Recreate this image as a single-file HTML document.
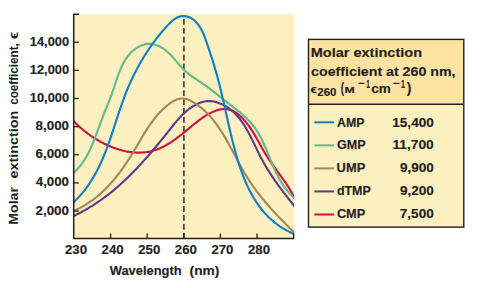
<!DOCTYPE html>
<html><head><meta charset="utf-8"><style>
html,body{margin:0;padding:0;background:#fff;width:482px;height:288px;overflow:hidden}
svg{display:block}
.t{font-family:"Liberation Sans",sans-serif;fill:#231f20;stroke:#231f20;stroke-width:0.15px}
.nr{stroke-width:0}
</style></head><body>
<svg width="482" height="288" viewBox="0 0 482 288">
<rect x="0" y="0" width="482" height="288" fill="#ffffff"/>
<rect x="74.2" y="14.2" width="220" height="224" fill="#fdf0c0"/>
<defs><clipPath id="cp"><rect x="74" y="0" width="220.2" height="238"/></clipPath></defs>
<g clip-path="url(#cp)" fill="none" stroke-width="2.1" stroke-linecap="round">
<line x1="183.9" y1="19.0" x2="183.9" y2="238" stroke="#3a3533" stroke-width="1.6" stroke-dasharray="5.8 3.11" stroke-linecap="butt"/>
<path d="M69.45,116.34 L70.12,117.14 L70.79,117.93 L71.49,118.72 L72.20,119.51 L72.92,120.30 L73.66,121.08 L74.41,121.87 L75.17,122.65 L75.95,123.42 L76.74,124.20 L77.55,124.97 L78.37,125.73 L79.20,126.49 L80.04,127.25 L80.90,128.00 L81.77,128.74 L82.64,129.48 L83.53,130.22 L84.44,130.95 L85.35,131.67 L86.27,132.38 L87.21,133.09 L88.15,133.79 L89.10,134.48 L90.06,135.16 L91.04,135.84 L92.02,136.51 L93.01,137.16 L94.01,137.81 L95.01,138.45 L96.03,139.08 L97.05,139.70 L98.08,140.31 L99.12,140.90 L100.16,141.49 L101.22,142.06 L102.27,142.63 L103.34,143.18 L104.41,143.72 L105.48,144.24 L106.57,144.75 L107.65,145.25 L108.75,145.74 L109.84,146.21 L110.94,146.67 L112.05,147.11 L113.16,147.54 L114.27,147.96 L115.39,148.35 L116.51,148.74 L117.63,149.10 L118.76,149.45 L119.89,149.79 L121.02,150.10 L122.15,150.40 L123.28,150.69 L124.42,150.95 L125.55,151.20 L126.69,151.42 L127.83,151.63 L128.97,151.82 L130.11,151.99 L131.25,152.14 L132.39,152.27 L133.53,152.39 L134.66,152.48 L135.80,152.54 L136.93,152.59 L138.07,152.62 L139.20,152.62 L140.33,152.61 L141.46,152.57 L142.58,152.51 L143.70,152.42 L144.82,152.31 L145.94,152.18 L147.05,152.02 L148.16,151.84 L149.26,151.64 L150.36,151.41 L151.46,151.15 L152.55,150.87 L153.63,150.57 L154.71,150.24 L155.78,149.88 L156.85,149.50 L157.92,149.09 L158.98,148.66 L160.03,148.21 L161.08,147.74 L162.12,147.25 L163.16,146.74 L164.19,146.20 L165.22,145.65 L166.24,145.09 L167.26,144.50 L168.27,143.90 L169.28,143.28 L170.28,142.65 L171.28,142.01 L172.27,141.35 L173.26,140.68 L174.24,139.99 L175.22,139.30 L176.19,138.60 L177.16,137.88 L178.12,137.16 L179.08,136.43 L180.04,135.69 L180.99,134.95 L181.93,134.20 L182.87,133.45 L183.81,132.69 L184.74,131.93 L185.67,131.16 L186.59,130.40 L187.51,129.63 L188.43,128.87 L189.34,128.10 L190.25,127.33 L191.16,126.57 L192.07,125.81 L192.98,125.05 L193.89,124.30 L194.81,123.55 L195.73,122.81 L196.65,122.07 L197.58,121.35 L198.52,120.63 L199.46,119.92 L200.42,119.22 L201.38,118.53 L202.35,117.85 L203.33,117.18 L204.33,116.52 L205.34,115.88 L206.36,115.26 L207.40,114.65 L208.45,114.05 L209.52,113.47 L210.60,112.92 L211.69,112.38 L212.80,111.88 L213.91,111.40 L215.02,110.96 L216.14,110.56 L217.27,110.19 L218.39,109.87 L219.51,109.59 L220.63,109.36 L221.74,109.19 L222.84,109.07 L223.94,109.01 L225.02,109.01 L226.09,109.08 L227.15,109.21 L228.19,109.40 L229.22,109.64 L230.23,109.95 L231.24,110.30 L232.23,110.71 L233.20,111.17 L234.16,111.67 L235.11,112.22 L236.04,112.81 L236.96,113.44 L237.87,114.11 L238.76,114.81 L239.63,115.55 L240.49,116.32 L241.34,117.11 L242.17,117.94 L242.99,118.79 L243.80,119.66 L244.58,120.55 L245.36,121.45 L246.12,122.37 L246.86,123.31 L247.59,124.25 L248.31,125.21 L249.01,126.17 L249.69,127.14 L250.37,128.12 L251.03,129.10 L251.68,130.09 L252.32,131.09 L252.95,132.09 L253.57,133.10 L254.18,134.11 L254.79,135.12 L255.39,136.14 L255.98,137.16 L256.57,138.19 L257.15,139.21 L257.73,140.24 L258.30,141.26 L258.87,142.29 L259.44,143.32 L260.01,144.35 L260.58,145.37 L261.15,146.40 L261.72,147.42 L262.30,148.44 L262.87,149.46 L263.45,150.47 L264.03,151.48 L264.62,152.49 L265.21,153.49 L265.81,154.48 L266.42,155.47 L267.03,156.46 L267.66,157.43 L268.29,158.40 L268.92,159.37 L269.57,160.33 L270.21,161.28 L270.87,162.23 L271.53,163.18 L272.19,164.13 L272.86,165.07 L273.53,166.00 L274.20,166.94 L274.88,167.87 L275.56,168.81 L276.24,169.74 L276.92,170.67 L277.61,171.60 L278.29,172.53 L278.97,173.47 L279.65,174.40 L280.34,175.34 L281.01,176.27 L281.69,177.21 L282.37,178.15 L283.04,179.10 L283.71,180.05 L284.37,181.00 L285.03,181.96 L285.69,182.92 L286.34,183.89 L286.98,184.86 L287.62,185.84 L288.25,186.83 L288.87,187.82 L289.49,188.82 L290.09,189.83 L290.69,190.85 L291.28,191.87 L291.86,192.91 L292.43,193.95 L292.99,195.00 L293.54,196.07 L294.08,197.14 L294.60,198.22 L295.11,199.32 L295.61,200.43 L296.10,201.55 L296.57,202.68 L297.03,203.83" stroke="#d01142" stroke-linejoin="round"/>
<path d="M64.44,219.94 L65.71,219.42 L66.98,218.90 L68.24,218.37 L69.49,217.83 L70.73,217.28 L71.97,216.72 L73.20,216.15 L74.42,215.58 L75.63,215.00 L76.84,214.40 L78.04,213.81 L79.23,213.20 L80.41,212.58 L81.59,211.96 L82.76,211.33 L83.92,210.69 L85.08,210.05 L86.22,209.39 L87.37,208.73 L88.50,208.07 L89.63,207.39 L90.75,206.71 L91.87,206.02 L92.98,205.32 L94.08,204.62 L95.18,203.91 L96.27,203.19 L97.35,202.46 L98.43,201.73 L99.50,200.99 L100.57,200.25 L101.63,199.50 L102.68,198.74 L103.73,197.98 L104.77,197.21 L105.81,196.43 L106.84,195.65 L107.87,194.86 L108.89,194.06 L109.91,193.26 L110.92,192.46 L111.92,191.64 L112.92,190.82 L113.92,190.00 L114.91,189.17 L115.89,188.34 L116.87,187.50 L117.85,186.65 L118.82,185.80 L119.78,184.94 L120.75,184.08 L121.70,183.21 L122.66,182.34 L123.61,181.47 L124.55,180.59 L125.49,179.70 L126.43,178.81 L127.36,177.91 L128.29,177.01 L129.21,176.11 L130.13,175.20 L131.05,174.29 L131.96,173.37 L132.87,172.45 L133.78,171.52 L134.68,170.59 L135.58,169.66 L136.47,168.72 L137.37,167.78 L138.25,166.83 L139.14,165.88 L140.02,164.93 L140.90,163.98 L141.78,163.02 L142.65,162.05 L143.53,161.09 L144.39,160.12 L145.26,159.14 L146.12,158.17 L146.98,157.19 L147.84,156.21 L148.70,155.22 L149.55,154.23 L150.41,153.24 L151.26,152.25 L152.10,151.26 L152.95,150.26 L153.79,149.26 L154.63,148.25 L155.47,147.25 L156.31,146.24 L157.15,145.23 L157.98,144.22 L158.82,143.21 L159.65,142.19 L160.48,141.17 L161.31,140.15 L162.14,139.13 L162.97,138.11 L163.79,137.09 L164.62,136.06 L165.44,135.03 L166.26,134.00 L167.09,132.97 L167.91,131.94 L168.73,130.91 L169.55,129.88 L170.37,128.84 L171.19,127.81 L172.01,126.78 L172.84,125.75 L173.67,124.72 L174.50,123.70 L175.34,122.69 L176.18,121.68 L177.04,120.68 L177.90,119.69 L178.76,118.71 L179.64,117.74 L180.53,116.79 L181.43,115.84 L182.35,114.92 L183.27,114.00 L184.22,113.11 L185.17,112.23 L186.15,111.38 L187.14,110.54 L188.15,109.72 L189.17,108.93 L190.22,108.16 L191.29,107.41 L192.38,106.69 L193.49,106.00 L194.63,105.33 L195.79,104.70 L196.97,104.10 L198.17,103.55 L199.39,103.04 L200.62,102.58 L201.87,102.17 L203.14,101.82 L204.42,101.53 L205.70,101.31 L207.00,101.16 L208.31,101.09 L209.63,101.09 L210.94,101.17 L212.26,101.32 L213.58,101.53 L214.88,101.80 L216.18,102.13 L217.47,102.51 L218.74,102.94 L219.99,103.41 L221.22,103.92 L222.42,104.47 L223.59,105.05 L224.74,105.66 L225.85,106.30 L226.94,106.96 L228.01,107.66 L229.05,108.39 L230.07,109.14 L231.06,109.92 L232.03,110.72 L232.97,111.55 L233.90,112.40 L234.80,113.27 L235.68,114.17 L236.55,115.09 L237.39,116.03 L238.21,116.99 L239.02,117.97 L239.81,118.96 L240.59,119.98 L241.34,121.01 L242.09,122.06 L242.82,123.12 L243.53,124.20 L244.23,125.29 L244.92,126.39 L245.60,127.51 L246.27,128.64 L246.92,129.78 L247.57,130.93 L248.21,132.08 L248.84,133.25 L249.46,134.42 L250.08,135.60 L250.68,136.79 L251.29,137.98 L251.89,139.18 L252.48,140.38 L253.07,141.58 L253.66,142.79 L254.24,144.00 L254.83,145.21 L255.41,146.41 L255.99,147.62 L256.58,148.82 L257.16,150.03 L257.75,151.23 L258.33,152.42 L258.93,153.61 L259.52,154.80 L260.12,155.98 L260.73,157.15 L261.34,158.31 L261.96,159.47 L262.58,160.62 L263.21,161.76 L263.84,162.90 L264.48,164.02 L265.13,165.15 L265.78,166.26 L266.44,167.37 L267.11,168.47 L267.78,169.57 L268.45,170.67 L269.13,171.75 L269.82,172.84 L270.51,173.91 L271.21,174.99 L271.91,176.06 L272.62,177.12 L273.34,178.19 L274.06,179.25 L274.79,180.30 L275.52,181.35 L276.26,182.40 L277.00,183.45 L277.75,184.50 L278.50,185.54 L279.26,186.58 L280.02,187.63 L280.79,188.66 L281.57,189.70 L282.35,190.74 L283.13,191.78 L283.93,192.82 L284.72,193.85 L285.52,194.89 L286.33,195.93 L287.14,196.97 L287.96,198.01 L288.78,199.05 L289.61,200.09 L290.44,201.13 L291.28,202.18 L292.12,203.23 L292.97,204.28 L293.82,205.33 L294.68,206.38 L295.54,207.44 L296.41,208.51 L297.28,209.57 L298.16,210.64 L299.04,211.72 L299.93,212.79" stroke="#5f3a8c" stroke-linejoin="round"/>
<path d="M63.99,214.60 L65.41,214.14 L66.82,213.66 L68.21,213.16 L69.58,212.64 L70.94,212.11 L72.28,211.55 L73.61,210.99 L74.92,210.40 L76.22,209.80 L77.50,209.19 L78.77,208.55 L80.02,207.91 L81.26,207.24 L82.49,206.57 L83.70,205.87 L84.90,205.16 L86.08,204.44 L87.25,203.70 L88.41,202.95 L89.55,202.19 L90.68,201.41 L91.80,200.62 L92.91,199.81 L94.00,198.99 L95.08,198.16 L96.15,197.32 L97.21,196.46 L98.25,195.59 L99.29,194.71 L100.31,193.82 L101.32,192.91 L102.33,191.99 L103.32,191.07 L104.30,190.13 L105.27,189.18 L106.23,188.22 L107.18,187.25 L108.12,186.27 L109.05,185.28 L109.97,184.28 L110.88,183.27 L111.78,182.25 L112.68,181.22 L113.56,180.18 L114.44,179.13 L115.31,178.08 L116.17,177.01 L117.02,175.94 L117.87,174.86 L118.70,173.78 L119.53,172.68 L120.35,171.58 L121.17,170.47 L121.98,169.35 L122.78,168.23 L123.57,167.10 L124.36,165.96 L125.15,164.82 L125.92,163.67 L126.69,162.52 L127.46,161.36 L128.22,160.20 L128.97,159.03 L129.72,157.85 L130.47,156.67 L131.21,155.49 L131.94,154.30 L132.67,153.11 L133.40,151.92 L134.12,150.72 L134.84,149.51 L135.56,148.31 L136.27,147.10 L136.98,145.89 L137.69,144.68 L138.40,143.47 L139.11,142.25 L139.82,141.04 L140.53,139.83 L141.24,138.62 L141.95,137.42 L142.67,136.21 L143.39,135.01 L144.12,133.81 L144.85,132.62 L145.59,131.43 L146.33,130.25 L147.09,129.07 L147.85,127.90 L148.61,126.74 L149.39,125.58 L150.18,124.43 L150.98,123.30 L151.78,122.17 L152.60,121.05 L153.44,119.94 L154.28,118.84 L155.14,117.76 L156.02,116.69 L156.91,115.63 L157.81,114.58 L158.73,113.55 L159.67,112.53 L160.63,111.52 L161.60,110.54 L162.60,109.57 L163.61,108.61 L164.65,107.67 L165.70,106.75 L166.78,105.85 L167.88,104.97 L169.00,104.11 L170.14,103.27 L171.31,102.47 L172.49,101.71 L173.70,101.00 L174.91,100.36 L176.14,99.79 L177.39,99.31 L178.64,98.93 L179.90,98.65 L181.16,98.49 L182.43,98.45 L183.70,98.55 L184.96,98.76 L186.23,99.08 L187.49,99.49 L188.73,99.98 L189.97,100.54 L191.20,101.15 L192.40,101.81 L193.59,102.50 L194.76,103.21 L195.91,103.95 L197.03,104.70 L198.14,105.48 L199.23,106.28 L200.30,107.10 L201.35,107.94 L202.39,108.80 L203.41,109.67 L204.41,110.57 L205.39,111.48 L206.36,112.41 L207.31,113.36 L208.25,114.33 L209.17,115.31 L210.08,116.30 L210.97,117.32 L211.85,118.34 L212.72,119.38 L213.58,120.44 L214.42,121.50 L215.25,122.58 L216.07,123.68 L216.87,124.78 L217.67,125.90 L218.46,127.03 L219.23,128.16 L220.00,129.31 L220.76,130.47 L221.51,131.64 L222.25,132.81 L222.98,133.99 L223.71,135.19 L224.43,136.38 L225.14,137.59 L225.85,138.80 L226.55,140.02 L227.24,141.24 L227.94,142.47 L228.62,143.70 L229.30,144.94 L229.98,146.18 L230.66,147.42 L231.33,148.67 L232.00,149.92 L232.67,151.17 L233.34,152.42 L234.00,153.67 L234.67,154.92 L235.33,156.18 L236.00,157.43 L236.66,158.68 L237.33,159.93 L237.99,161.17 L238.66,162.42 L239.33,163.66 L240.01,164.90 L240.69,166.13 L241.37,167.36 L242.05,168.59 L242.74,169.81 L243.43,171.03 L244.13,172.23 L244.83,173.44 L245.54,174.63 L246.26,175.82 L246.98,177.00 L247.71,178.17 L248.45,179.33 L249.19,180.49 L249.94,181.63 L250.70,182.77 L251.46,183.91 L252.24,185.03 L253.01,186.15 L253.80,187.26 L254.59,188.36 L255.39,189.46 L256.19,190.55 L257.00,191.64 L257.82,192.72 L258.64,193.79 L259.47,194.86 L260.30,195.92 L261.14,196.98 L261.99,198.04 L262.84,199.08 L263.70,200.13 L264.57,201.17 L265.44,202.20 L266.31,203.23 L267.20,204.26 L268.08,205.29 L268.98,206.31 L269.88,207.32 L270.78,208.34 L271.69,209.35 L272.60,210.36 L273.52,211.36 L274.45,212.37 L275.38,213.37 L276.32,214.37 L277.26,215.37 L278.20,216.36 L279.15,217.36 L280.11,218.35 L281.07,219.35 L282.03,220.34 L283.00,221.33 L283.98,222.32 L284.96,223.31 L285.94,224.31 L286.93,225.30 L287.92,226.29 L288.92,227.28 L289.92,228.28 L290.92,229.27 L291.93,230.26 L292.95,231.26 L293.96,232.26 L294.99,233.26 L296.01,234.26 L297.04,235.26 L298.07,236.27 L299.11,237.28 L300.15,238.29 L301.20,239.30" stroke="#a6845c" stroke-linejoin="round"/>
<path d="M64.87,179.02 L66.26,178.21 L67.61,177.36 L68.92,176.48 L70.19,175.56 L71.42,174.62 L72.62,173.64 L73.78,172.64 L74.90,171.61 L75.98,170.55 L77.04,169.47 L78.06,168.36 L79.05,167.22 L80.01,166.06 L80.94,164.88 L81.84,163.68 L82.72,162.46 L83.57,161.22 L84.39,159.95 L85.19,158.67 L85.96,157.38 L86.72,156.07 L87.45,154.74 L88.16,153.39 L88.85,152.04 L89.53,150.67 L90.19,149.29 L90.83,147.90 L91.45,146.50 L92.07,145.09 L92.66,143.67 L93.25,142.24 L93.83,140.81 L94.39,139.37 L94.95,137.93 L95.50,136.49 L96.04,135.04 L96.58,133.59 L97.11,132.14 L97.64,130.69 L98.16,129.24 L98.69,127.80 L99.21,126.35 L99.73,124.91 L100.26,123.47 L100.78,122.04 L101.31,120.62 L101.85,119.20 L102.39,117.79 L102.93,116.39 L103.48,115.00 L104.03,113.61 L104.58,112.22 L105.14,110.84 L105.70,109.46 L106.26,108.08 L106.82,106.70 L107.37,105.32 L107.93,103.94 L108.49,102.55 L109.04,101.16 L109.59,99.76 L110.13,98.36 L110.67,96.94 L111.21,95.52 L111.74,94.09 L112.26,92.65 L112.78,91.20 L113.28,89.73 L113.78,88.25 L114.28,86.76 L114.77,85.27 L115.27,83.76 L115.76,82.26 L116.26,80.75 L116.76,79.24 L117.28,77.74 L117.80,76.24 L118.33,74.74 L118.88,73.25 L119.45,71.78 L120.03,70.31 L120.63,68.87 L121.26,67.43 L121.90,66.02 L122.58,64.63 L123.28,63.25 L124.02,61.91 L124.79,60.59 L125.59,59.30 L126.43,58.04 L127.31,56.81 L128.22,55.62 L129.19,54.46 L130.19,53.34 L131.25,52.27 L132.35,51.23 L133.50,50.25 L134.69,49.31 L135.92,48.44 L137.18,47.62 L138.48,46.87 L139.80,46.19 L141.15,45.59 L142.53,45.07 L143.91,44.63 L145.32,44.29 L146.73,44.04 L148.16,43.89 L149.58,43.84 L151.01,43.90 L152.43,44.07 L153.85,44.34 L155.26,44.71 L156.65,45.17 L158.03,45.71 L159.39,46.33 L160.73,47.03 L162.04,47.80 L163.32,48.63 L164.57,49.51 L165.79,50.45 L166.97,51.44 L168.12,52.47 L169.24,53.53 L170.33,54.63 L171.41,55.76 L172.46,56.90 L173.50,58.07 L174.53,59.25 L175.55,60.44 L176.56,61.63 L177.57,62.82 L178.59,64.00 L179.61,65.17 L180.64,66.33 L181.69,67.46 L182.75,68.57 L183.83,69.65 L184.93,70.69 L186.06,71.70 L187.20,72.68 L188.36,73.63 L189.54,74.56 L190.74,75.46 L191.94,76.35 L193.16,77.22 L194.39,78.07 L195.63,78.91 L196.87,79.75 L198.12,80.57 L199.37,81.40 L200.62,82.22 L201.87,83.05 L203.11,83.88 L204.35,84.71 L205.59,85.56 L206.82,86.42 L208.04,87.30 L209.24,88.19 L210.44,89.10 L211.64,90.02 L212.83,90.95 L214.01,91.89 L215.19,92.84 L216.37,93.79 L217.55,94.75 L218.73,95.71 L219.91,96.67 L221.10,97.63 L222.29,98.59 L223.49,99.54 L224.69,100.49 L225.90,101.44 L227.11,102.38 L228.33,103.32 L229.55,104.25 L230.77,105.19 L231.99,106.13 L233.21,107.07 L234.42,108.01 L235.63,108.96 L236.83,109.91 L238.03,110.87 L239.21,111.83 L240.39,112.81 L241.55,113.79 L242.69,114.78 L243.83,115.79 L244.94,116.80 L246.04,117.84 L247.12,118.88 L248.17,119.94 L249.21,121.02 L250.22,122.12 L251.20,123.23 L252.16,124.37 L253.09,125.53 L253.99,126.71 L254.87,127.91 L255.71,129.12 L256.54,130.36 L257.34,131.62 L258.12,132.89 L258.87,134.18 L259.61,135.48 L260.33,136.80 L261.03,138.13 L261.72,139.47 L262.39,140.83 L263.04,142.20 L263.68,143.57 L264.32,144.96 L264.94,146.35 L265.55,147.75 L266.16,149.16 L266.75,150.57 L267.35,151.99 L267.94,153.41 L268.52,154.84 L269.11,156.26 L269.69,157.69 L270.28,159.12 L270.86,160.55 L271.45,161.97 L272.05,163.40 L272.65,164.82 L273.25,166.23 L273.87,167.64 L274.49,169.05 L275.12,170.45 L275.77,171.84 L276.43,173.22 L277.10,174.59 L277.79,175.95 L278.49,177.30 L279.21,178.64 L279.95,179.97 L280.72,181.28 L281.50,182.58 L282.30,183.86 L283.13,185.12 L283.98,186.37 L284.86,187.60 L285.77,188.81 L286.70,190.00 L287.67,191.17 L288.67,192.32 L289.69,193.45 L290.76,194.55 L291.85,195.63 L292.98,196.68 L294.15,197.70 L295.36,198.70 L296.61,199.67 L297.90,200.61 L299.23,201.53 L300.60,202.41 L302.02,203.26 L303.48,204.08" stroke="#5fb98b" stroke-linejoin="round"/>
<path d="M61.59,212.17 L63.35,210.90 L65.07,209.61 L66.75,208.31 L68.39,206.98 L69.98,205.63 L71.54,204.26 L73.05,202.87 L74.53,201.46 L75.98,200.04 L77.38,198.60 L78.75,197.14 L80.09,195.66 L81.39,194.17 L82.66,192.65 L83.90,191.13 L85.10,189.58 L86.28,188.03 L87.42,186.45 L88.54,184.87 L89.63,183.26 L90.69,181.65 L91.72,180.02 L92.73,178.38 L93.71,176.72 L94.67,175.05 L95.60,173.37 L96.52,171.68 L97.41,169.98 L98.28,168.26 L99.12,166.54 L99.95,164.80 L100.76,163.06 L101.56,161.30 L102.33,159.54 L103.09,157.77 L103.83,155.99 L104.56,154.20 L105.28,152.40 L105.98,150.60 L106.67,148.78 L107.34,146.97 L108.01,145.14 L108.67,143.31 L109.32,141.48 L109.96,139.64 L110.59,137.80 L111.22,135.95 L111.84,134.10 L112.45,132.24 L113.07,130.39 L113.67,128.53 L114.28,126.67 L114.89,124.81 L115.49,122.95 L116.09,121.08 L116.70,119.22 L117.31,117.36 L117.92,115.50 L118.53,113.64 L119.15,111.78 L119.77,109.92 L120.40,108.07 L121.04,106.22 L121.68,104.37 L122.33,102.52 L122.99,100.69 L123.67,98.85 L124.35,97.02 L125.04,95.20 L125.75,93.38 L126.47,91.57 L127.21,89.76 L127.95,87.96 L128.72,86.17 L129.49,84.39 L130.28,82.61 L131.08,80.84 L131.90,79.07 L132.73,77.31 L133.58,75.56 L134.44,73.82 L135.32,72.08 L136.21,70.35 L137.12,68.63 L138.04,66.91 L138.98,65.20 L139.93,63.50 L140.90,61.81 L141.89,60.12 L142.89,58.45 L143.91,56.78 L144.94,55.11 L145.99,53.46 L147.06,51.81 L148.15,50.18 L149.25,48.54 L150.36,46.92 L151.50,45.31 L152.65,43.70 L153.82,42.10 L155.01,40.52 L156.22,38.93 L157.44,37.36 L158.68,35.80 L159.95,34.24 L161.22,32.70 L162.52,31.16 L163.84,29.63 L165.17,28.11 L166.53,26.60 L167.90,25.11 L169.30,23.66 L170.73,22.27 L172.18,20.96 L173.67,19.76 L175.20,18.69 L176.76,17.77 L178.37,17.03 L180.03,16.48 L181.73,16.14 L183.47,16.03 L185.22,16.13 L186.96,16.44 L188.68,16.97 L190.35,17.70 L191.96,18.63 L193.50,19.74 L194.98,21.00 L196.37,22.40 L197.69,23.91 L198.91,25.51 L200.04,27.19 L201.06,28.93 L202.00,30.71 L202.87,32.53 L203.67,34.38 L204.42,36.26 L205.12,38.16 L205.80,40.06 L206.46,41.97 L207.12,43.87 L207.76,45.76 L208.41,47.65 L209.04,49.53 L209.66,51.42 L210.28,53.29 L210.89,55.17 L211.50,57.04 L212.09,58.90 L212.68,60.77 L213.26,62.64 L213.83,64.50 L214.40,66.36 L214.95,68.22 L215.50,70.09 L216.03,71.95 L216.56,73.81 L217.08,75.68 L217.58,77.54 L218.08,79.41 L218.57,81.28 L219.06,83.15 L219.53,85.03 L220.00,86.90 L220.46,88.78 L220.92,90.66 L221.37,92.53 L221.81,94.41 L222.25,96.30 L222.69,98.18 L223.12,100.06 L223.55,101.95 L223.98,103.83 L224.40,105.72 L224.83,107.61 L225.25,109.50 L225.67,111.39 L226.09,113.29 L226.51,115.18 L226.93,117.07 L227.36,118.97 L227.78,120.87 L228.21,122.76 L228.64,124.66 L229.07,126.56 L229.51,128.46 L229.95,130.36 L230.40,132.26 L230.85,134.16 L231.30,136.07 L231.77,137.97 L232.24,139.88 L232.71,141.78 L233.20,143.69 L233.69,145.59 L234.19,147.50 L234.70,149.41 L235.22,151.31 L235.74,153.22 L236.28,155.13 L236.84,157.03 L237.40,158.93 L237.97,160.83 L238.56,162.72 L239.17,164.60 L239.78,166.49 L240.42,168.36 L241.07,170.23 L241.73,172.09 L242.41,173.94 L243.11,175.78 L243.83,177.61 L244.57,179.43 L245.32,181.24 L246.10,183.03 L246.90,184.82 L247.72,186.59 L248.56,188.34 L249.42,190.08 L250.30,191.81 L251.21,193.51 L252.15,195.20 L253.11,196.88 L254.09,198.53 L255.10,200.16 L256.14,201.78 L257.21,203.37 L258.30,204.94 L259.42,206.49 L260.58,208.01 L261.76,209.52 L262.97,210.99 L264.21,212.44 L265.49,213.87 L266.80,215.27 L268.14,216.64 L269.51,217.98 L270.92,219.30 L272.36,220.58 L273.84,221.84 L275.36,223.06 L276.91,224.25 L278.50,225.41 L280.13,226.54 L281.80,227.63 L283.50,228.69 L285.25,229.71 L287.03,230.69 L288.86,231.64 L290.73,232.55 L292.64,233.43 L294.59,234.26 L296.59,235.05 L298.63,235.81 L300.72,236.52 L302.85,237.19 L305.03,237.82 L307.25,238.40 L309.53,238.94" stroke="#0b80c6" stroke-linejoin="round"/>
</g>
<path d="M79,14.2 H73.7 V238.5 H294.2" fill="none" stroke="#231f20" stroke-width="1.5"/>
<g class="t">
<line x1="73.7" y1="211.00" x2="78.8" y2="211.00" stroke="#231f20" stroke-width="1.3"/>
<text x="35.53" y="214.60" font-size="12.40" font-weight="bold" textLength="33.44" lengthAdjust="spacingAndGlyphs">2,000</text>
<line x1="73.7" y1="182.88" x2="78.8" y2="182.88" stroke="#231f20" stroke-width="1.3"/>
<text x="35.80" y="186.47" font-size="12.40" font-weight="bold" textLength="33.16" lengthAdjust="spacingAndGlyphs">4,000</text>
<line x1="73.7" y1="154.75" x2="78.8" y2="154.75" stroke="#231f20" stroke-width="1.3"/>
<text x="35.53" y="158.35" font-size="12.40" font-weight="bold" textLength="33.44" lengthAdjust="spacingAndGlyphs">6,000</text>
<line x1="73.7" y1="126.62" x2="78.8" y2="126.62" stroke="#231f20" stroke-width="1.3"/>
<text x="35.60" y="130.22" font-size="12.40" font-weight="bold" textLength="33.37" lengthAdjust="spacingAndGlyphs">8,000</text>
<line x1="73.7" y1="98.50" x2="78.8" y2="98.50" stroke="#231f20" stroke-width="1.3"/>
<text x="29.87" y="102.10" font-size="12.40" font-weight="bold" textLength="39.23" lengthAdjust="spacingAndGlyphs">10,000</text>
<line x1="73.7" y1="70.38" x2="78.8" y2="70.38" stroke="#231f20" stroke-width="1.3"/>
<text x="29.87" y="73.97" font-size="12.40" font-weight="bold" textLength="39.23" lengthAdjust="spacingAndGlyphs">12,000</text>
<line x1="73.7" y1="42.25" x2="78.8" y2="42.25" stroke="#231f20" stroke-width="1.3"/>
<text x="29.87" y="45.85" font-size="12.40" font-weight="bold" textLength="39.23" lengthAdjust="spacingAndGlyphs">14,000</text>
<text x="65.04" y="254.20" font-size="12.40" font-weight="bold" textLength="22.04" lengthAdjust="spacingAndGlyphs">230</text>
<line x1="110.60" y1="238.6" x2="110.60" y2="233.6" stroke="#231f20" stroke-width="1.3"/>
<text x="101.64" y="254.20" font-size="12.40" font-weight="bold" textLength="22.04" lengthAdjust="spacingAndGlyphs">240</text>
<line x1="147.20" y1="238.6" x2="147.20" y2="233.6" stroke="#231f20" stroke-width="1.3"/>
<text x="138.24" y="254.20" font-size="12.40" font-weight="bold" textLength="22.04" lengthAdjust="spacingAndGlyphs">250</text>
<line x1="183.80" y1="238.6" x2="183.80" y2="233.6" stroke="#231f20" stroke-width="1.3"/>
<text x="174.84" y="254.20" font-size="12.40" font-weight="bold" textLength="22.04" lengthAdjust="spacingAndGlyphs">260</text>
<line x1="220.40" y1="238.6" x2="220.40" y2="233.6" stroke="#231f20" stroke-width="1.3"/>
<text x="211.44" y="254.20" font-size="12.40" font-weight="bold" textLength="22.04" lengthAdjust="spacingAndGlyphs">270</text>
<line x1="257.00" y1="238.6" x2="257.00" y2="233.6" stroke="#231f20" stroke-width="1.3"/>
<text x="248.04" y="254.20" font-size="12.40" font-weight="bold" textLength="22.04" lengthAdjust="spacingAndGlyphs">280</text>
<line x1="293.60" y1="238.6" x2="293.60" y2="233.6" stroke="#231f20" stroke-width="1.3"/>
<text x="109.70" y="274.70" font-size="12.40" font-weight="bold" textLength="71.97" lengthAdjust="spacingAndGlyphs">Wavelength</text>
<text x="189.61" y="274.70" font-size="12.40" font-weight="bold" textLength="29.72" lengthAdjust="spacingAndGlyphs">(nm)</text>
<g transform="rotate(-90)" class="nr">
<text x="-224.72" y="17.90" font-size="13.20" font-weight="bold" textLength="37.59" lengthAdjust="spacingAndGlyphs">Molar</text>
<text x="-178.47" y="17.90" font-size="13.20" font-weight="bold" textLength="67.67" lengthAdjust="spacingAndGlyphs">extinction</text>
<text x="-104.87" y="17.90" font-size="13.20" font-weight="bold" textLength="61.67" lengthAdjust="spacingAndGlyphs">coefficient,</text>
<text x="-38.99" y="18.00" font-size="12.50" font-weight="bold" textLength="7.06" lengthAdjust="spacingAndGlyphs">ϵ</text>
</g>
</g>
<rect x="308.5" y="39.4" width="155.3" height="65" fill="#fce2a3"/>
<rect x="308.5" y="104.3" width="155.3" height="122.8" fill="#fdf0c0"/>
<rect x="308.5" y="39.4" width="155.3" height="187.7" fill="none" stroke="#231f20" stroke-width="1.4"/>
<line x1="308.5" y1="104.3" x2="463.8" y2="104.3" stroke="#231f20" stroke-width="1.4"/>
<g class="t">
<text x="310.76" y="57.30" font-size="13.60" font-weight="bold" textLength="111.25" lengthAdjust="spacingAndGlyphs">Molar extinction</text>
<text x="311.13" y="75.70" font-size="13.60" font-weight="bold" textLength="144.36" lengthAdjust="spacingAndGlyphs">coefficient at 260 nm,</text>
<text x="310.58" y="93.00" font-size="11.30" font-weight="bold" textLength="6.22" lengthAdjust="spacingAndGlyphs">ϵ</text>
<text x="317.30" y="96.00" font-size="10.30" font-weight="bold" textLength="19.10" lengthAdjust="spacingAndGlyphs">260</text>
<text x="340.70" y="92.60" font-size="14.60" font-weight="bold" textLength="3.33" lengthAdjust="spacingAndGlyphs">(</text>
<text x="344.60" y="93.00" font-size="8.60" font-weight="bold" textLength="10.23" lengthAdjust="spacingAndGlyphs">M</text>
<text x="357.94" y="87.40" font-size="11.00" font-weight="bold" textLength="6.71" lengthAdjust="spacingAndGlyphs">−</text>
<text x="366.18" y="87.80" font-size="10.50" font-weight="bold" textLength="3.59" lengthAdjust="spacingAndGlyphs">1</text>
<text x="371.26" y="93.10" font-size="13.60" font-weight="bold" textLength="19.52" lengthAdjust="spacingAndGlyphs">cm</text>
<text x="393.14" y="87.40" font-size="11.00" font-weight="bold" textLength="6.71" lengthAdjust="spacingAndGlyphs">−</text>
<text x="401.04" y="87.80" font-size="10.50" font-weight="bold" textLength="3.95" lengthAdjust="spacingAndGlyphs">1</text>
<text x="406.83" y="92.50" font-size="14.80" font-weight="bold" textLength="4.64" lengthAdjust="spacingAndGlyphs">)</text>
<line x1="314.4" y1="122.30" x2="333.9" y2="122.30" stroke="#0b80c6" stroke-width="2"/>
<text x="337.09" y="126.50" font-size="12.80" font-weight="bold" textLength="27.30" lengthAdjust="spacingAndGlyphs">AMP</text>
<text x="392.32" y="126.50" font-size="12.80" font-weight="bold" textLength="41.40" lengthAdjust="spacingAndGlyphs">15,400</text>
<line x1="314.4" y1="145.35" x2="333.9" y2="145.35" stroke="#5fb98b" stroke-width="2"/>
<text x="336.90" y="149.45" font-size="12.80" font-weight="bold" textLength="28.72" lengthAdjust="spacingAndGlyphs">GMP</text>
<text x="392.40" y="149.45" font-size="12.80" font-weight="bold" textLength="41.40" lengthAdjust="spacingAndGlyphs">11,700</text>
<line x1="314.4" y1="168.40" x2="333.9" y2="168.40" stroke="#a6845c" stroke-width="2"/>
<text x="336.63" y="172.40" font-size="12.80" font-weight="bold" textLength="28.69" lengthAdjust="spacingAndGlyphs">UMP</text>
<text x="399.93" y="172.40" font-size="12.80" font-weight="bold" textLength="33.85" lengthAdjust="spacingAndGlyphs">9,900</text>
<line x1="314.4" y1="191.45" x2="333.9" y2="191.45" stroke="#5f3a8c" stroke-width="2"/>
<text x="336.90" y="195.35" font-size="12.80" font-weight="bold" textLength="33.89" lengthAdjust="spacingAndGlyphs">dTMP</text>
<text x="399.93" y="195.35" font-size="12.80" font-weight="bold" textLength="33.85" lengthAdjust="spacingAndGlyphs">9,200</text>
<line x1="314.4" y1="214.50" x2="333.9" y2="214.50" stroke="#d01142" stroke-width="2"/>
<text x="336.89" y="218.30" font-size="12.80" font-weight="bold" textLength="28.42" lengthAdjust="spacingAndGlyphs">CMP</text>
<text x="399.79" y="218.30" font-size="12.80" font-weight="bold" textLength="33.99" lengthAdjust="spacingAndGlyphs">7,500</text>
</g>
</svg>
</body></html>
